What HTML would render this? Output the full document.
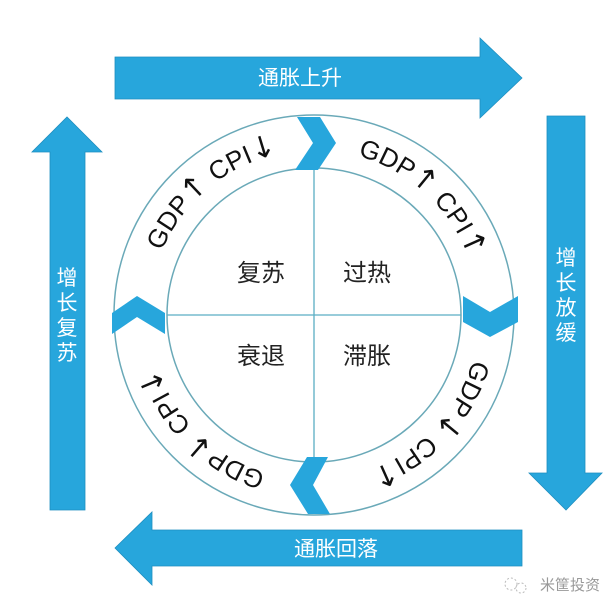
<!DOCTYPE html>
<html><head><meta charset="utf-8"><style>
body{margin:0;background:#fff;}
svg{display:block;}
text{font-family:"Liberation Sans","Noto Sans CJK SC",sans-serif;}
.ar{font-family:"DejaVu Sans",sans-serif;font-size:30px;}
</style></head><body>
<svg width="616" height="610" viewBox="0 0 616 610" xmlns="http://www.w3.org/2000/svg">
<defs>
<path id="ring" d="M149,315 A165,165 0 1 1 479,315 A165,165 0 1 1 149,315"/>
</defs>
<g fill="#27a6dc" stroke="#1e8fc0" stroke-width="0.8">
<polygon points="115,57 480,57 480,38 522,78 480,118 480,99 115,99"/>
<polygon points="547,116 585,116 585,473 602,473 566,510 529,473 547,473"/>
<polygon points="522,530 522,566 152,566 152,585 115,548 152,512 152,530"/>
<polygon points="50,510 50,152 32,152 67,117 102,152 85,152 85,510"/>
</g>
<g fill="#fff" font-size="21" text-anchor="middle">
<text x="300" y="85">通胀上升</text>
<text x="336" y="556">通胀回落</text>
<text x="67" y="285">增</text><text x="67" y="310">长</text><text x="67" y="335">复</text><text x="67" y="360">苏</text>
<text x="566" y="265">增</text><text x="566" y="290">长</text><text x="566" y="315">放</text><text x="566" y="340">缓</text>
</g>
<circle cx="314" cy="315" r="200" fill="none" stroke="#6aa9b8" stroke-width="1.5"/>
<circle cx="314" cy="315" r="147" fill="none" stroke="#6aa9b8" stroke-width="1.5"/>
<line x1="314" y1="168" x2="314" y2="462" stroke="#5aaec4" stroke-width="1.3"/>
<line x1="167" y1="315" x2="461" y2="315" stroke="#5aaec4" stroke-width="1.3"/>
<g fill="#27a6dc">
<polygon points="297,117 320,117 336,143 318,170 295,170 313,143"/>
<polygon points="463,296 490,312 518,296 518,322 490,337 463,322"/>
<polygon points="307,457 328,457 313,485 330,514 308,514 290,485"/>
<polygon points="112,313 137,296 165,313 165,334 137,317 112,334"/>
</g>
<g font-size="26" fill="#111" text-anchor="middle">
<text><textPath href="#ring" startOffset="144">GDP<tspan class="ar">↑</tspan> CPI<tspan class="ar">↓</tspan></textPath></text>
<text><textPath href="#ring" startOffset="382">GDP<tspan class="ar">↑</tspan> CPI<tspan class="ar">↑</tspan></textPath></text>
<text><textPath href="#ring" startOffset="642">GDP<tspan class="ar">↓</tspan> CPI<tspan class="ar">↑</tspan></textPath></text>
<text><textPath href="#ring" startOffset="905">GDP<tspan class="ar">↓</tspan> CPI<tspan class="ar">↓</tspan></textPath></text>
</g>
<g font-size="24" fill="#222" text-anchor="middle">
<text x="261" y="281">复苏</text>
<text x="367" y="281">过热</text>
<text x="261" y="364">衰退</text>
<text x="367" y="364">滞胀</text>
</g>
<circle cx="511" cy="584" r="6" fill="none" stroke="#bbb" stroke-width="1" stroke-dasharray="2,2"/>
<circle cx="521" cy="588" r="5" fill="none" stroke="#bbb" stroke-width="1" stroke-dasharray="2,2"/>
<text x="570" y="590" font-size="15" fill="#999" text-anchor="middle">米筐投资</text>
</svg>
</body></html>
